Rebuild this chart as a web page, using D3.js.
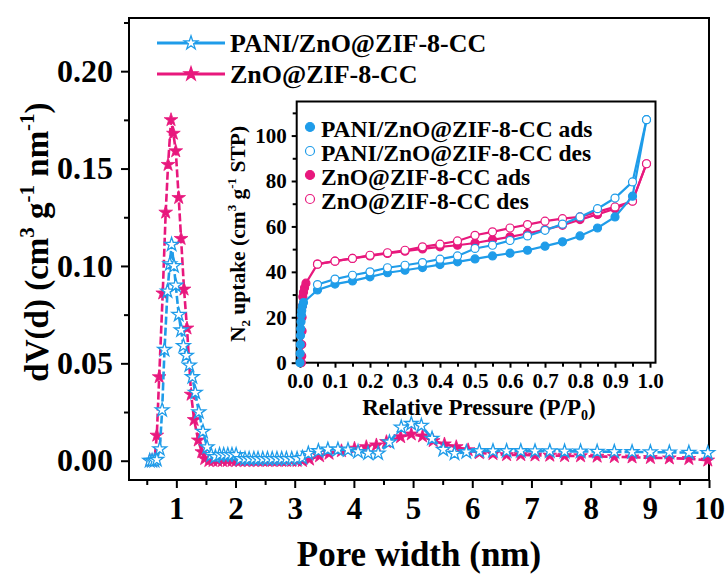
<!DOCTYPE html>
<html lang="en">
<head>
<meta charset="utf-8">
<title>Pore size distribution</title>
<script src="https://d3js.org/d3.v7.min.js"></script>
<style>
  body { margin: 0; background: #fff; }
  svg text { font-family: 'Liberation Serif', 'DejaVu Serif', serif; font-weight: bold; fill: #000; }
</style>
</head>
<body>
<div id="chart"></div>
<script>
// pore width (nm), dV(d)
var paniPSD = [[0.55,0],[0.59,0],[0.63,0],[0.67,0.0005],[0.72,0.006],[0.76,0.026],[0.80,0.057],[0.85,0.087],[0.89,0.101],[0.92,0.111],[0.96,0.100],[0.99,0.090],[1.04,0.075],[1.08,0.067],[1.12,0.059],[1.17,0.054],[1.22,0.049],[1.27,0.043],[1.32,0.035],[1.38,0.025],[1.45,0.015],[1.52,0.007],[1.59,0.003],[1.66,0.002],[1.73,0.003],[1.80,0.003],[1.87,0.003],[1.94,0.003],[2.01,0.003],[2.08,0.001],[2.16,0.001],[2.23,0.001],[2.31,0.001],[2.38,0.001],[2.46,0.001],[2.54,0.001],[2.62,0.001],[2.70,0.001],[2.78,0.001],[2.86,0.001],[2.95,0.001],[3.04,0.001],[3.13,0.0015],[3.23,0.0037],[3.40,0.005],[3.56,0.0058],[3.73,0.0058],[3.90,0.0055],[4.07,0.0046],[4.24,0.0038],[4.41,0.0038],[4.60,0.0095],[4.80,0.0171],[4.97,0.019],[5.14,0.018],[5.32,0.0114],[5.51,0.0057],[5.70,0.0037],[5.90,0.0045],[6.12,0.005],[6.35,0.005],[6.58,0.005],[6.82,0.005],[7.06,0.0049],[7.31,0.0049],[7.56,0.0048],[7.83,0.0048],[8.11,0.0047],[8.40,0.0046],[8.70,0.0045],[9.01,0.0044],[9.33,0.0043],[9.66,0.0042],[9.98,0.004]];
var znoPSD = [[0.55,0],[0.59,0],[0.63,0],[0.67,0.013],[0.71,0.043],[0.77,0.086],[0.82,0.1275],[0.86,0.152],[0.91,0.175],[0.95,0.168],[0.99,0.159],[1.04,0.135],[1.08,0.114],[1.13,0.088],[1.18,0.068],[1.25,0.034],[1.30,0.021],[1.37,0.0105],[1.43,0.0045],[1.48,0.001],[1.55,0],[1.62,0],[1.70,0],[1.78,0],[1.86,0],[1.94,0],[2.01,0],[2.08,0],[2.16,0],[2.23,0],[2.31,0],[2.38,0],[2.46,0],[2.54,0],[2.62,0],[2.70,0],[2.78,0],[2.86,0],[2.95,0],[3.04,0],[3.13,0],[3.25,0.0007],[3.42,0.0024],[3.58,0.0037],[3.79,0.005],[4.01,0.0063],[4.21,0.0071],[4.38,0.008],[4.55,0.0097],[4.79,0.0122],[4.97,0.0136],[5.16,0.0126],[5.34,0.0102],[5.53,0.0085],[5.73,0.0071],[5.93,0.0055],[6.12,0.004],[6.35,0.0035],[6.58,0.003],[6.82,0.003],[7.06,0.0028],[7.31,0.0027],[7.56,0.0025],[7.83,0.0024],[8.11,0.0022],[8.40,0.002],[8.70,0.0018],[9.01,0.0015],[9.33,0.0013],[9.66,0.001],[9.98,0.0002]];

// inset isotherms: P/P0, N2 uptake
var paniAds = [[0.0,0],[0.0005,4],[0.001,8],[0.0015,12],[0.002,15],[0.003,18],[0.004,21],[0.005,23],[0.007,25],[0.01,26.5],[0.05,32.0],[0.1,34.6],[0.15,36.0],[0.2,37.8],[0.25,39.6],[0.3,40.7],[0.35,41.9],[0.4,43.2],[0.45,44.4],[0.5,45.7],[0.55,47.0],[0.6,48.2],[0.65,49.5],[0.7,51.3],[0.75,53.2],[0.8,55.8],[0.85,59.3],[0.9,64.2],[0.95,73.3],[0.99,107]];
var paniDes = [[0.99,107],[0.95,79.6],[0.9,72.5],[0.85,67.8],[0.8,64.2],[0.75,61.0],[0.7,58.3],[0.65,55.8],[0.6,53.8],[0.55,51.7],[0.5,50.3],[0.45,47.0],[0.4,45.6],[0.35,44.1],[0.3,42.9],[0.25,41.8],[0.2,40.0],[0.15,38.5],[0.1,36.8],[0.05,34.4]];
var znoAds = [[0.004,0],[0.005,3],[0.005,8],[0.006,14],[0.006,20],[0.007,25],[0.008,29],[0.01,31],[0.013,33],[0.017,35],[0.05,43.4],[0.1,44.7],[0.15,45.9],[0.2,47.0],[0.25,48.1],[0.3,49.1],[0.35,50.1],[0.4,51.0],[0.45,51.7],[0.5,52.7],[0.55,54.1],[0.6,55.4],[0.65,56.9],[0.7,58.6],[0.75,60.5],[0.8,63.0],[0.85,65.3],[0.9,67.8],[0.95,71.2],[0.99,87.6]];
var znoDes = [[0.99,87.6],[0.95,71.1],[0.9,68.6],[0.85,66.4],[0.8,64.2],[0.75,63.4],[0.7,62.3],[0.65,60.8],[0.6,59.3],[0.55,57.6],[0.5,56.1],[0.45,53.6],[0.4,52.2],[0.35,51.0],[0.3,49.5],[0.25,48.4],[0.2,47.3],[0.15,45.9],[0.1,44.7],[0.05,43.4]];

var mainXTicks = [1,2,3,4,5,6,7,8,9,10];
var mainXMinor = [0.5,1.5,2.5,3.5,4.5,5.5,6.5,7.5,8.5,9.5];
var mainYTicks = [0,0.05,0.10,0.15,0.20];
var mainYMinor = [0.025,0.075,0.125,0.175,0.225];
var insetXTicks = [0,0.1,0.2,0.3,0.4,0.5,0.6,0.7,0.8,0.9,1.0];
var insetXMinor = [0.05,0.15,0.25,0.35,0.45,0.55,0.65,0.75,0.85,0.95];
var insetYTicks = [0,20,40,60,80,100];
var insetYMinor = [10,30,50,70,90,110];

var mainLegend = ["PANI/ZnO@ZIF-8-CC", "ZnO@ZIF-8-CC"];
var insetLegend = ["PANI/ZnO@ZIF-8-CC ads", "PANI/ZnO@ZIF-8-CC des", "ZnO@ZIF-8-CC ads", "ZnO@ZIF-8-CC des"];

var blue = "#1f9ce9", pink = "#e8187d";
var serif = "Liberation Serif";

var svg = d3.select("#chart").append("svg")
  .attr("width", 726).attr("height", 579)
  .attr("font-family", serif).attr("font-weight", "bold");

// ---- main plot
var x = d3.scaleLinear().domain([0.2, 10]).range([129, 709]);
var y = d3.scaleLinear().domain([-0.0099, 0.2273]).range([480, 18]);

function axisStyle(g) {
  g.attr("font-family", serif).attr("font-size", null);
  g.select(".domain").remove();
  g.selectAll("line").attr("stroke", "#000").attr("stroke-width", 2);
}

svg.append("g").attr("transform", "translate(0,480)")
  .call(d3.axisBottom(x).tickValues(mainXTicks).tickSize(8).tickPadding(9).tickFormat(d3.format("d")))
  .call(axisStyle)
  .selectAll("text").attr("font-size", 31);
svg.append("g").attr("transform", "translate(0,480)")
  .call(d3.axisBottom(x).tickValues(mainXMinor).tickSize(5).tickFormat(""))
  .call(axisStyle);
svg.append("g").attr("transform", "translate(129,0)")
  .call(d3.axisLeft(y).tickValues(mainYTicks).tickSize(8).tickPadding(8).tickFormat(d3.format(".2f")))
  .call(axisStyle)
  .selectAll("text").attr("font-size", 32);
svg.append("g").attr("transform", "translate(129,0)")
  .call(d3.axisLeft(y).tickValues(mainYMinor).tickSize(5).tickFormat(""))
  .call(axisStyle);

svg.append("rect").attr("x", 129).attr("y", 18).attr("width", 580).attr("height", 462)
  .attr("fill", "none").attr("stroke", "#000").attr("stroke-width", 2);

var star = d3.symbol(d3.symbolStar, 58);
var line = d3.line().x(function(d) { return x(d[0]); }).y(function(d) { return y(d[1]); });

function drawPSD(data, color, filled) {
  svg.append("path").datum(data)
    .attr("fill", "none").attr("stroke", color).attr("stroke-width", 2.6)
    .attr("stroke-dasharray", "8,3")
    .attr("d", line);
  svg.append("g").selectAll("path").data(data).enter().append("path")
    .attr("d", star)
    .attr("transform", function(d) { return "translate(" + x(d[0]) + "," + y(d[1]) + ")"; })
    .attr("fill", filled ? color : "#fff")
    .attr("stroke", color).attr("stroke-width", filled ? 0.8 : 1.3);
}
drawPSD(znoPSD, pink, true);
drawPSD(paniPSD, blue, false);

// main legend
mainLegend.forEach(function(name, i) {
  var ly = 43 + i * 31, col = i == 0 ? blue : pink;
  svg.append("line").attr("x1", 157).attr("x2", 225).attr("y1", ly).attr("y2", ly)
    .attr("stroke", col).attr("stroke-width", 3.2);
  svg.append("path").attr("d", star).attr("transform", "translate(191," + ly + ")")
    .attr("fill", i == 0 ? "#fff" : col).attr("stroke", col).attr("stroke-width", 1.3);
  svg.append("text").attr("x", 230).attr("y", ly + 9).attr("font-size", 26).text(name);
});

// axis titles
svg.append("text").attr("x", 419).attr("y", 566).attr("text-anchor", "middle")
  .attr("font-size", 35).text("Pore width (nm)");
var yt = svg.append("text").attr("transform", "translate(48,242) rotate(-90)")
  .attr("text-anchor", "middle").attr("font-size", 33);
yt.append("tspan").text("dV(d) (cm");
yt.append("tspan").attr("font-size", 21).attr("dy", -14).text("3");
yt.append("tspan").attr("dy", 14).text(" g");
yt.append("tspan").attr("font-size", 21).attr("dy", -14).text("-1");
yt.append("tspan").attr("dy", 14).text(" nm");
yt.append("tspan").attr("font-size", 21).attr("dy", -14).text("-1");
yt.append("tspan").attr("dy", 14).text(")");

// ---- inset
var xi = d3.scaleLinear().domain([-0.0094, 1.0157]).range([296.7, 655.5]);
var yi = d3.scaleLinear().domain([0, 115]).range([362.7, 101.5]);

svg.append("rect").attr("x", 296.7).attr("y", 101.5).attr("width", 358.8).attr("height", 261.2)
  .attr("fill", "#fff").attr("stroke", "none");

svg.append("g").attr("transform", "translate(0,362.7)")
  .call(d3.axisBottom(xi).tickValues(insetXTicks).tickSize(5).tickPadding(5).tickFormat(d3.format(".1f")))
  .call(axisStyle)
  .selectAll("text").attr("font-size", 21);
svg.append("g").attr("transform", "translate(0,362.7)")
  .call(d3.axisBottom(xi).tickValues(insetXMinor).tickSize(4).tickFormat(""))
  .call(axisStyle);
svg.append("g").attr("transform", "translate(296.7,0)")
  .call(d3.axisLeft(yi).tickValues(insetYTicks).tickSize(5).tickPadding(5).tickFormat(d3.format("d")))
  .call(axisStyle)
  .selectAll("text").attr("font-size", 21);
svg.append("g").attr("transform", "translate(296.7,0)")
  .call(d3.axisLeft(yi).tickValues(insetYMinor).tickSize(4).tickFormat(""))
  .call(axisStyle);

svg.append("rect").attr("x", 296.7).attr("y", 101.5).attr("width", 358.8).attr("height", 261.2)
  .attr("fill", "none").attr("stroke", "#000").attr("stroke-width", 2);

var iline = d3.line().x(function(d) { return xi(d[0]); }).y(function(d) { return yi(d[1]); });
function drawIso(data, color, filled) {
  svg.append("path").datum(data)
    .attr("fill", "none").attr("stroke", color).attr("stroke-width", 2.2)
    .attr("d", iline);
  svg.append("g").selectAll("circle").data(data).enter().append("circle")
    .attr("cx", function(d) { return xi(d[0]); })
    .attr("cy", function(d) { return yi(d[1]); })
    .attr("r", 4)
    .attr("fill", filled ? color : "#fff")
    .attr("stroke", color).attr("stroke-width", 1.2);
}
drawIso(znoAds, pink, true);
drawIso(znoDes, pink, false);
drawIso(paniAds, blue, true);
drawIso(paniDes, blue, false);

insetLegend.forEach(function(name, i) {
  var ly = 129 + i * 24, col = i < 2 ? blue : pink;
  svg.append("circle").attr("cx", 310).attr("cy", ly - 2).attr("r", 4.5)
    .attr("fill", i % 2 == 0 ? col : "#fff").attr("stroke", col).attr("stroke-width", 1.2);
  svg.append("text").attr("x", 321).attr("y", ly + 8).attr("font-size", 23.5).text(name);
});

var xt = svg.append("text").attr("x", 479).attr("y", 415).attr("text-anchor", "middle").attr("font-size", 23);
xt.append("tspan").text("Relative Pressure (P/P");
xt.append("tspan").attr("font-size", 14).attr("dy", 5).text("0");
xt.append("tspan").attr("dy", -5).text(")");

var yt2 = svg.append("text").attr("transform", "translate(245,234) rotate(-90)")
  .attr("text-anchor", "middle").attr("font-size", 21.5);
yt2.append("tspan").text("N");
yt2.append("tspan").attr("font-size", 13).attr("dy", 5).text("2");
yt2.append("tspan").attr("dy", -5).text(" uptake (cm");
yt2.append("tspan").attr("font-size", 13).attr("dy", -9).text("3");
yt2.append("tspan").attr("dy", 9).text(" g");
yt2.append("tspan").attr("font-size", 13).attr("dy", -9).text("-1");
yt2.append("tspan").attr("dy", 9).text(" STP)");
</script>
</body>
</html>
